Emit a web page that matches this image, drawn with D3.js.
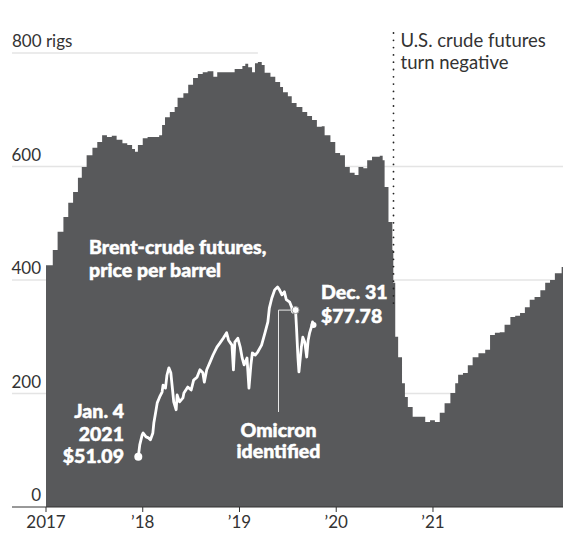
<!DOCTYPE html>
<html>
<head>
<meta charset="utf-8">
<script src="https://cdn.jsdelivr.net/npm/d3@7"></script>
<style>
  body { margin: 0; background: #fff; }
  svg { display: block; }
  text { font-family: Lato, "Open Sans", "DejaVu Sans", sans-serif; }
</style>
</head>
<body>
<svg id="chart" width="563" height="536"></svg>
<script>
// U.S. rig count, sampled weekly-ish, as decimal years
const rigYears = [
  2017.00, 2017.07, 2017.12, 2017.18, 2017.23, 2017.28, 2017.33, 2017.37, 2017.42, 2017.48,
  2017.53, 2017.58, 2017.63, 2017.68, 2017.73, 2017.79, 2017.84, 2017.89, 2017.92, 2017.95,
  2018.00, 2018.05, 2018.13, 2018.17, 2018.20, 2018.23, 2018.28, 2018.33, 2018.36, 2018.42,
  2018.47, 2018.52, 2018.57, 2018.62, 2018.67, 2018.73, 2018.77, 2018.83, 2018.90, 2018.95,
  2019.03, 2019.06, 2019.09, 2019.13, 2019.16, 2019.19, 2019.23, 2019.26, 2019.32, 2019.37,
  2019.42, 2019.45, 2019.50, 2019.54, 2019.59, 2019.65, 2019.70, 2019.75, 2019.80, 2019.85,
  2019.88, 2019.94, 2019.99, 2020.04, 2020.09, 2020.14, 2020.19, 2020.23, 2020.28, 2020.32,
  2020.37, 2020.42, 2020.45, 2020.48, 2020.50, 2020.54, 2020.58, 2020.59, 2020.61, 2020.64,
  2020.68, 2020.71, 2020.74, 2020.79, 2020.87, 2020.92, 2020.97, 2021.02, 2021.07, 2021.12,
  2021.18, 2021.23, 2021.26, 2021.31, 2021.36, 2021.41, 2021.47, 2021.54, 2021.59, 2021.64,
  2021.69, 2021.74, 2021.80, 2021.85, 2021.90, 2021.95, 2022.00, 2022.05, 2022.11, 2022.16,
  2022.21, 2022.26, 2022.33, 2022.344
];
const rigCounts = [
  426, 453, 485, 511, 536, 555, 580, 599, 620, 633,
  643, 655, 652, 654, 647, 641, 638, 631, 626, 638,
  650, 652, 652, 655, 673, 687, 696, 705, 721, 729,
  744, 756, 763, 766, 768, 758, 766, 766, 766, 772,
  777, 781, 775, 766, 782, 784, 779, 765, 758, 749,
  740, 731, 724, 712, 705, 696, 689, 682, 670, 671,
  655, 643, 624, 620, 599, 589, 585, 599, 597, 611,
  617, 617, 619, 611, 564, 502, 453, 395, 300, 264,
  218, 194, 176, 159, 159, 150, 153, 150, 166, 183,
  201, 218, 233, 236, 250, 264, 271, 277, 303, 307,
  308, 321, 335, 337, 342, 352, 365, 370, 382, 395,
  400, 412, 423, 426
];

// Brent crude futures, 2021, dollars per barrel
const brentDates = [
  "2021-01-04", "2021-01-07", "2021-01-12", "2021-01-14", "2021-01-20", "2021-01-25", "2021-01-29",
  "2021-02-03", "2021-02-05", "2021-02-09", "2021-02-12", "2021-02-17", "2021-02-22", "2021-02-24",
  "2021-03-01", "2021-03-04", "2021-03-08", "2021-03-12", "2021-03-16", "2021-03-18", "2021-03-23",
  "2021-03-25", "2021-03-30", "2021-04-06", "2021-04-08", "2021-04-16", "2021-04-23", "2021-04-28",
  "2021-05-05", "2021-05-11", "2021-05-17", "2021-05-20", "2021-05-25", "2021-06-01", "2021-06-07",
  "2021-06-15", "2021-06-21", "2021-06-28", "2021-07-05", "2021-07-09", "2021-07-16", "2021-07-19",
  "2021-07-22", "2021-07-28", "2021-08-02", "2021-08-06", "2021-08-10", "2021-08-16", "2021-08-20",
  "2021-08-24", "2021-08-27", "2021-09-02", "2021-09-07", "2021-09-15", "2021-09-22", "2021-09-28",
  "2021-10-01", "2021-10-06", "2021-10-12", "2021-10-18", "2021-10-22", "2021-10-27", "2021-11-01",
  "2021-11-05", "2021-11-12", "2021-11-16", "2021-11-18", "2021-11-24", "2021-11-26", "2021-11-29",
  "2021-12-01", "2021-12-06", "2021-12-09", "2021-12-13", "2021-12-17", "2021-12-20", "2021-12-23",
  "2021-12-28", "2021-12-29", "2021-12-31"
];
const brentPrices = [
  51.09, 53.5, 55.5, 55.9, 55.1, 54.9, 54.5,
  55.9, 57.9, 60.2, 62.0, 63.2, 64.2, 65.6,
  65.0, 67.6, 69.1, 68.1, 64.2, 62.2, 60.6,
  63.6, 62.2, 63.0, 64.0, 65.2, 64.6, 66.6,
  67.2, 68.7, 68.1, 66.2, 68.7, 70.3, 71.7,
  73.3, 74.1, 75.1, 76.2, 74.7, 73.7, 68.7,
  74.3, 75.1, 73.3, 71.1, 69.7, 71.1, 65.0,
  69.7, 72.1, 71.7, 72.3, 73.7, 76.2, 78.4,
  81.2, 83.2, 84.9, 85.5, 84.9, 83.9, 84.5,
  82.9, 82.4, 81.4, 80.4, 80.8, 77.2, 71.1,
  68.3, 73.3, 75.3, 74.3, 71.3, 74.7, 76.2,
  77.8, 78.4, 77.78
];

// Axis ticks and labels
const rigTicks = [0, 200, 400, 600, 800];
const rigTickLabels = ["0", "200", "400", "600", "800 rigs"];
const yearTicks = [2017, 2018, 2019, 2020, 2021];
const yearTickLabels = ["2017", "\u201918", "\u201919", "\u201920", "\u201921"];

// Events
const negativeFuturesYear = 2020.59;
const negativeFuturesRigs = 350;
const omicronDate = "2021-11-24";
const omicronPrice = 80.8;
const omicronLeaderDate = "2021-10-18";

const svg = d3.select("#chart");
const W = 563, H = 536;
const AREA = "#58595b";
const INK = "#333333";

const x = d3.scaleLinear().domain([2017, 2022.344]).range([46, W]);
const y = d3.scaleLinear().domain([0, 800]).range([507, 53]);

// Gridlines
const grid = svg.append("g");
rigTicks.filter(d => d > 0).forEach(d => {
  grid.append("line")
    .attr("x1", 12)
    .attr("x2", d === 800 ? x(2019.19) : W)
    .attr("y1", y(d)).attr("y2", y(d))
    .attr("stroke", "#e4e4e4").attr("stroke-width", 1.5);
});

// Rig count area
const rigs = rigYears.map((t, i) => ({ t, v: rigCounts[i] }));
svg.append("path")
  .datum(rigs)
  .attr("fill", AREA)
  .attr("d", d3.area().curve(d3.curveStepAfter)
    .x(d => x(d.t)).y0(y(0)).y1(d => y(d.v)));

// Y labels
svg.append("g").selectAll("text")
  .data(rigTicks)
  .join("text")
  .attr("x", d => d === 800 ? 12 : 41)
  .attr("y", d => y(d) - 6)
  .attr("text-anchor", d => d === 800 ? "start" : "end")
  .attr("fill", INK)
  .attr("font-size", 17)
  .text((d, i) => rigTickLabels[i]);

// X axis
const xAxis = svg.append("g").attr("transform", `translate(0,${y(0)})`);
xAxis.append("line").attr("x1", 12).attr("x2", W).attr("stroke", INK).attr("stroke-width", 1);
const xt = xAxis.selectAll("g.tick").data(yearTicks).join("g")
  .attr("class", "tick").attr("transform", d => `translate(${x(d)},0)`);
xt.append("line").attr("y2", 5).attr("stroke", INK);
xt.append("text").attr("y", 21).attr("text-anchor", "middle")
  .attr("fill", INK).attr("font-size", 17)
  .text((d, i) => yearTickLabels[i]);

// Dotted event line
const ex = Math.round(x(negativeFuturesYear)) + 0.5;
svg.append("line")
  .attr("x1", ex).attr("x2", ex)
  .attr("y1", 33).attr("y2", y(negativeFuturesRigs))
  .attr("stroke", "#222").attr("stroke-width", 1.8)
  .attr("stroke-linecap", "round").attr("stroke-dasharray", "0 7.3");
const ev = svg.append("text").attr("x", ex + 7).attr("y", 47)
  .attr("fill", INK).attr("font-size", 18.5);
ev.append("tspan").attr("x", ex + 7).text("U.S. crude futures");
ev.append("tspan").attr("x", ex + 7).attr("dy", 21.5).text("turn negative");

// Brent inset
const parse = d3.timeParse("%Y-%m-%d");
const bx = d3.scaleTime()
  .domain([parse("2021-01-04"), parse("2021-12-31")])
  .range([138.3, 313.5]);
const by = d3.scaleLinear().domain([51.09, 77.78]).range([456.7, 325]);
const brent = brentDates.map((d, i) => ({ d: parse(d), p: brentPrices[i] }));

svg.append("path")
  .datum(brent)
  .attr("fill", "none").attr("stroke", "#fff")
  .attr("stroke-width", 2.8).attr("stroke-linejoin", "round")
  .attr("d", d3.line().x(d => bx(d.d)).y(d => by(d.p)));

const first = brent[0], last = brent[brent.length - 1];
svg.append("circle").attr("cx", bx(first.d)).attr("cy", by(first.p)).attr("r", 4).attr("fill", "#fff");
svg.append("circle").attr("cx", bx(last.d)).attr("cy", by(last.p)).attr("r", 3).attr("fill", "#fff");

// Omicron leader and marker
const ox = bx(parse(omicronDate)), oy = by(omicronPrice);
const lx = Math.round(bx(parse(omicronLeaderDate))) + 0.5;
svg.append("path")
  .attr("d", `M${ox},${oy}H${lx}V412`)
  .attr("fill", "none").attr("stroke", "#e8e8e8").attr("stroke-width", 1);
svg.append("circle").attr("cx", ox).attr("cy", oy).attr("r", 3.5)
  .attr("fill", "#fff").attr("stroke", "#9a9a9a").attr("stroke-width", 1);

// Inset labels, heavy white type
const bold = (sel) => sel.attr("fill", "#fff").attr("font-weight", 900).attr("font-size", 19.5)
  .attr("stroke", "#fff").attr("stroke-width", 0.5).attr("paint-order", "stroke");
const title = bold(svg.append("text").attr("x", 89).attr("y", 254));
title.append("tspan").attr("x", 89).text("Brent-crude futures,");
title.append("tspan").attr("x", 89).attr("dy", 22.5).text("price per barrel");

const startLbl = bold(svg.append("text").attr("x", 124).attr("y", 418).attr("text-anchor", "end"));
["Jan. 4", "2021", "$" + brentPrices[0].toFixed(2)].forEach((s, i) =>
  startLbl.append("tspan").attr("x", 124).attr("dy", i ? 22.5 : 0).text(s));

const endLbl = bold(svg.append("text").attr("x", 321).attr("y", 299));
["Dec. 31", "$" + brentPrices[brentPrices.length - 1].toFixed(2)].forEach((s, i) =>
  endLbl.append("tspan").attr("x", 321).attr("dy", i ? 24 : 0).text(s));

const omLbl = bold(svg.append("text").attr("x", lx).attr("y", 437).attr("text-anchor", "middle"));
["Omicron", "identified"].forEach((s, i) =>
  omLbl.append("tspan").attr("x", lx).attr("dy", i ? 21 : 0).text(s));
</script>
</body>
</html>
